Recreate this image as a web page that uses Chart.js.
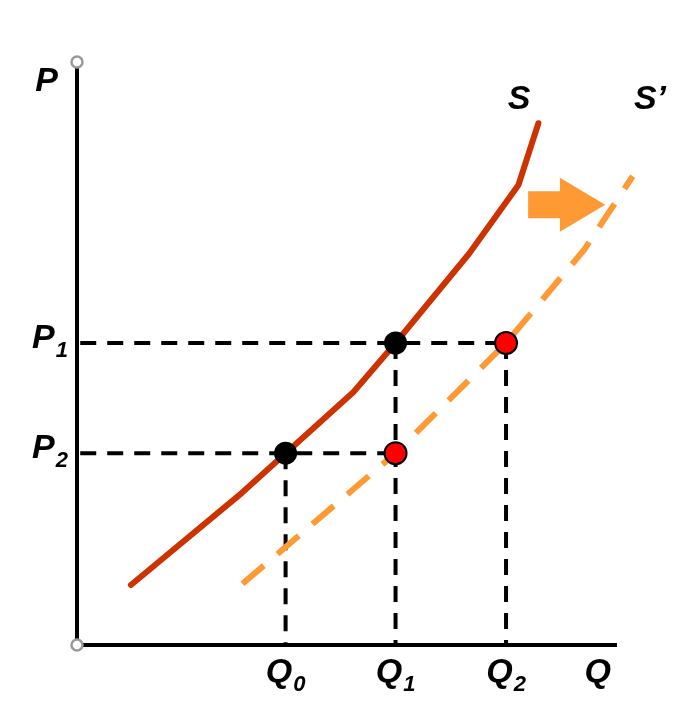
<!DOCTYPE html>
<html>
<head>
<meta charset="utf-8">
<title>Supply shift</title>
<script src="https://cdn.jsdelivr.net/npm/chart.js@4.4.1/dist/chart.umd.min.js"></script>
<style>
  html, body { margin: 0; padding: 0; background: #fff; }
  #wrap { width: 686px; height: 710px; position: relative; }
</style>
</head>
<body>
<div id="wrap"><canvas id="supplyChart"></canvas></div>
<script>
// quantity marks Q0, Q1, Q2 and price levels P1, P2
const qValues = [3.87, 5.91, 7.96];
const qSubs = ['0', '1', '2'];
const pValues = [5.18, 3.29];
const pSubs = ['1', '2'];

// supply curve S
const sQ = [1.0, 3.06, 5.13, 5.91, 7.28, 8.19, 8.56];
const sP = [1.03, 2.61, 4.34, 5.18, 6.72, 7.89, 8.95];

// shifted supply curve S'
const s2Q = [3.07, 5.91, 7.96, 9.41, 10.31, 10.61];
const s2P = [1.05, 3.29, 5.18, 6.78, 8.04, 8.92];

// arrow showing the shift (tail, head base, tip)
const arrowQ = [8.37, 8.96, 9.80];
const arrowP = 7.55;

const FONT = "'Liberation Sans', Arial, sans-serif";
const MAIN = 'bold italic 34px ' + FONT;
const SUB = 'bold italic 22px ' + FONT;
const toPts = (xs, ys) => xs.map((x, i) => ({ x, y: ys[i] }));

// black points on S, red points on S'
const oldEq = [{ x: qValues[0], y: pValues[1] }, { x: qValues[1], y: pValues[0] }];
const newEq = [{ x: qValues[1], y: pValues[1] }, { x: qValues[2], y: pValues[0] }];

// dashed guides
const guides = [
  [{ x: 0.06, y: pValues[0] }, { x: qValues[2], y: pValues[0] }],
  [{ x: 0.06, y: pValues[1] }, { x: qValues[1], y: pValues[1] }],
  [{ x: qValues[0], y: pValues[1] }, { x: qValues[0], y: 0 }],
  [{ x: qValues[1], y: pValues[0] }, { x: qValues[1], y: 0 }],
  [{ x: qValues[2], y: pValues[0] }, { x: qValues[2], y: 0 }]
];

const guideSets = guides.map(g => ({
  data: g,
  showLine: true,
  borderColor: '#000',
  borderWidth: 4,
  borderDash: [16, 11],
  pointRadius: 0,
  order: 3
}));

function label(ctx, x, y, main, sub, align) {
  ctx.font = MAIN;
  const w1 = ctx.measureText(main).width;
  ctx.font = SUB;
  const w2 = sub ? ctx.measureText(sub).width + 1 : 0;
  let left = x;
  if (align === 'center') left = x - (w1 + w2) / 2;
  if (align === 'right') left = x - (w1 + w2);
  ctx.textAlign = 'left';
  ctx.textBaseline = 'alphabetic';
  ctx.fillStyle = '#000';
  ctx.font = MAIN;
  ctx.fillText(main, left, y);
  if (sub) {
    ctx.font = SUB;
    ctx.fillText(sub, left + w1 + 1, y + 9);
  }
}

const extras = {
  id: 'extras',
  afterDatasetsDraw(chart) {
    const { ctx, scales: { x, y }, chartArea } = chart;
    ctx.save();

    // shift arrow
    const ay = y.getPixelForValue(arrowP);
    const ax0 = x.getPixelForValue(arrowQ[0]);
    const ax1 = x.getPixelForValue(arrowQ[1]);
    const ax2 = x.getPixelForValue(arrowQ[2]);
    ctx.fillStyle = '#FF9933';
    ctx.beginPath();
    ctx.moveTo(ax0, ay - 13.5);
    ctx.lineTo(ax1, ay - 13.5);
    ctx.lineTo(ax1, ay - 27);
    ctx.lineTo(ax2, ay);
    ctx.lineTo(ax1, ay + 27);
    ctx.lineTo(ax1, ay + 13.5);
    ctx.lineTo(ax0, ay + 13.5);
    ctx.closePath();
    ctx.fill();

    // axis labels
    const x0 = chartArea.left;
    const y0 = chartArea.bottom;
    label(ctx, x0 - 19, chartArea.top + 29, 'P', '', 'right');
    pValues.forEach((p, i) => {
      label(ctx, x0 - 9, y.getPixelForValue(p) + 5, 'P', pSubs[i], 'right');
    });
    qValues.forEach((q, i) => {
      label(ctx, x.getPixelForValue(q), y0 + 37, 'Q', qSubs[i], 'center');
    });
    label(ctx, chartArea.right - 5, y0 + 37, 'Q', '', 'right');

    // curve labels
    const sTop = sQ.length - 1;
    const s2Top = s2Q.length - 1;
    label(ctx, x.getPixelForValue(sQ[sTop]) - 8, y.getPixelForValue(sP[sTop]) - 14, 'S', '', 'right');
    label(ctx, x.getPixelForValue(s2Q[s2Top]) - 15, y.getPixelForValue(sP[sTop]) - 14, 'S\u2019', '', 'left');

    // open circles at axis ends
    ctx.strokeStyle = '#999';
    ctx.fillStyle = '#fff';
    ctx.lineWidth = 2.5;
    [[x0, chartArea.top], [x0, y0]].forEach(([cx, cy]) => {
      ctx.beginPath();
      ctx.arc(cx, cy, 5.5, 0, Math.PI * 2);
      ctx.fill();
      ctx.stroke();
    });
    ctx.restore();
  }
};

new Chart(document.getElementById('supplyChart'), {
  type: 'scatter',
  data: {
    datasets: [
      {
        data: oldEq,
        pointRadius: 11.5,
        pointBackgroundColor: '#000',
        pointBorderColor: '#000',
        pointBorderWidth: 0,
        order: 0
      },
      {
        data: newEq,
        pointRadius: 11,
        pointBackgroundColor: '#FF0000',
        pointBorderColor: '#000',
        pointBorderWidth: 2,
        order: 0
      },
      {
        data: toPts(sQ, sP),
        showLine: true,
        borderColor: '#CC3300',
        borderWidth: 6,
        borderCapStyle: 'round',
        borderJoinStyle: 'round',
        pointRadius: 0,
        tension: 0,
        order: 1
      },
      {
        data: toPts(s2Q, s2P),
        showLine: true,
        borderColor: '#FF9933',
        borderWidth: 6,
        borderDash: [28, 18],
        pointRadius: 0,
        tension: 0,
        clip: false,
        order: 2
      },
      ...guideSets
    ]
  },
  options: {
    responsive: true,
    maintainAspectRatio: false,
    animation: false,
    layout: { padding: { left: 77, right: 70, top: 62, bottom: 65 } },
    plugins: { legend: { display: false }, tooltip: { enabled: false } },
    scales: {
      x: {
        type: 'linear',
        min: 0,
        max: 10,
        grid: { display: false, drawTicks: false },
        ticks: { display: false },
        border: { display: true, color: '#000', width: 4 }
      },
      y: {
        type: 'linear',
        min: 0,
        max: 10,
        grid: { display: false, drawTicks: false },
        ticks: { display: false },
        border: { display: true, color: '#000', width: 4 }
      }
    }
  },
  plugins: [extras]
});
</script>
</body>
</html>
